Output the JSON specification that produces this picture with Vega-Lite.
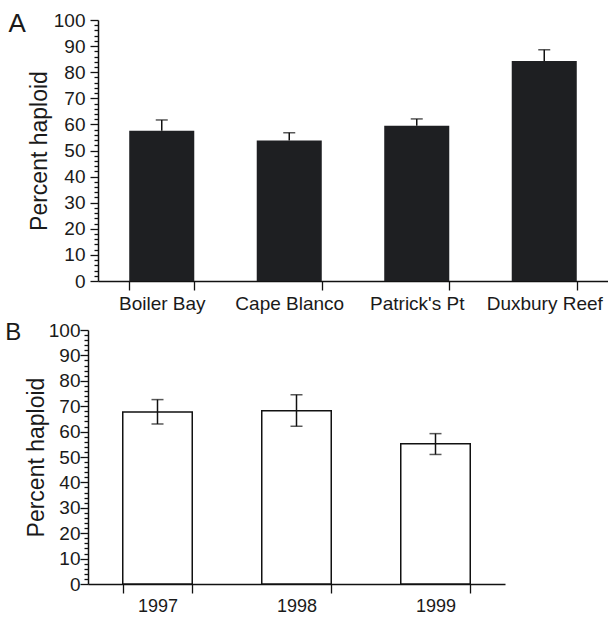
{
  "$schema": "https://vega.github.io/schema/vega-lite/v6.json",
  "padding": {"left": 5, "top": 11, "right": 0, "bottom": 2},
  "config": {
    "view": {"stroke": null},
    "font": "Liberation Sans",
    "axis": {
      "domainColor": "#111",
      "domainWidth": 1.5,
      "tickColor": "#111",
      "tickWidth": 1.3,
      "labelColor": "#1a1a1a",
      "labelFont": "Liberation Sans",
      "titleFont": "Liberation Sans",
      "titleColor": "#1a1a1a",
      "titleFontWeight": "normal",
      "grid": false
    }
  },
  "datasets": {
    "sites": [
      {"site": "Boiler Bay", "pct": 57.6, "upper": 61.7},
      {"site": "Cape Blanco", "pct": 53.8, "upper": 56.8},
      {"site": "Patrick's Pt", "pct": 59.5, "upper": 62.1},
      {"site": "Duxbury Reef", "pct": 84.3, "upper": 88.6}
    ],
    "years": [
      {"year": "1997", "pct": 67.7, "lower": 63.0, "upper": 72.6},
      {"year": "1998", "pct": 68.2, "lower": 62.1, "upper": 74.5},
      {"year": "1999", "pct": 55.2, "lower": 51.0, "upper": 59.2}
    ]
  },
  "vconcat": [
    {
      "width": 520,
      "height": 261,
      "title": {"text": "A", "orient": "left", "anchor": "end", "frame": "bounds", "angle": 0, "align": "right", "baseline": "top", "offset": -15, "fontSize": 26, "fontWeight": "normal", "color": "#1a1a1a"},
      "data": {"name": "sites"},
      "encoding": {
        "x": {
          "field": "site", "type": "nominal", "sort": null,
          "scale": {"range": [10, 520], "paddingInner": 0.49, "paddingOuter": 0.245},
          "axis": {"title": null, "labelAngle": 0, "tickBand": "extent", "tickSize": 9, "labelPadding": 4, "labelFontSize": 19}
        }
      },
      "layer": [
        {
          "mark": {"type": "bar", "color": "#1e1f22"},
          "encoding": {
            "y": {
              "field": "pct", "type": "quantitative",
              "scale": {"domain": [0, 100], "nice": false},
              "axis": {
                "offset": -10,
                "title": "Percent haploid", "titleFontSize": 23, "titlePadding": 2,
                "values": [0,2,4,6,8,10,12,14,16,18,20,22,24,26,28,30,32,34,36,38,40,42,44,46,48,50,52,54,56,58,60,62,64,66,68,70,72,74,76,78,80,82,84,86,88,90,92,94,96,98,100],
                "tickCount": 60,
                "labelExpr": "datum.value % 10 === 0 ? datum.label : ''",
                "labelOverlap": false,
                "tickSize": {"condition": {"test": "datum.value % 10 === 0", "value": 8}, "value": 4},
                "labelPadding": 5, "labelFontSize": 19
              }
            }
          }
        },
        {
          "mark": {"type": "rule", "color": "#111", "strokeWidth": 1.5},
          "encoding": {"y": {"field": "pct", "type": "quantitative"}, "y2": {"field": "upper"}}
        },
        {
          "mark": {"type": "tick", "color": "#111", "size": 12, "thickness": 1.5},
          "encoding": {"y": {"field": "upper", "type": "quantitative"}}
        }
      ]
    },
    {
      "width": 417,
      "height": 254,
      "title": {"text": "B", "orient": "left", "anchor": "end", "frame": "bounds", "angle": 0, "align": "right", "baseline": "top", "offset": -12, "fontSize": 24, "fontWeight": "normal", "color": "#1a1a1a"},
      "data": {"name": "years"},
      "encoding": {
        "x": {
          "field": "year", "type": "nominal", "sort": null,
          "scale": {"paddingInner": 0.5, "paddingOuter": 0.25},
          "axis": {"title": null, "labelAngle": 0, "tickBand": "extent", "tickSize": 9, "labelPadding": 4, "labelFontSize": 18}
        }
      },
      "layer": [
        {
          "mark": {"type": "bar", "fill": "white", "stroke": "#111", "strokeWidth": 1.5},
          "encoding": {
            "y": {
              "field": "pct", "type": "quantitative",
              "scale": {"domain": [0, 100], "nice": false},
              "axis": {
                "title": "Percent haploid", "titleFontSize": 23, "titlePadding": 0,
                "values": [0,2,4,6,8,10,12,14,16,18,20,22,24,26,28,30,32,34,36,38,40,42,44,46,48,50,52,54,56,58,60,62,64,66,68,70,72,74,76,78,80,82,84,86,88,90,92,94,96,98,100],
                "tickCount": 60,
                "labelExpr": "datum.value % 10 === 0 ? datum.label : ''",
                "labelOverlap": false,
                "tickSize": {"condition": {"test": "datum.value % 10 === 0", "value": 8}, "value": 4},
                "labelPadding": 0, "labelFontSize": 19
              }
            }
          }
        },
        {
          "mark": {"type": "rule", "color": "#111", "strokeWidth": 1.5},
          "encoding": {"y": {"field": "lower", "type": "quantitative"}, "y2": {"field": "upper"}}
        },
        {
          "mark": {"type": "tick", "color": "#111", "size": 12, "thickness": 1.5},
          "encoding": {"y": {"field": "upper", "type": "quantitative"}}
        },
        {
          "mark": {"type": "tick", "color": "#111", "size": 12, "thickness": 1.5},
          "encoding": {"y": {"field": "lower", "type": "quantitative"}}
        }
      ]
    }
  ],
  "spacing": 8
}
